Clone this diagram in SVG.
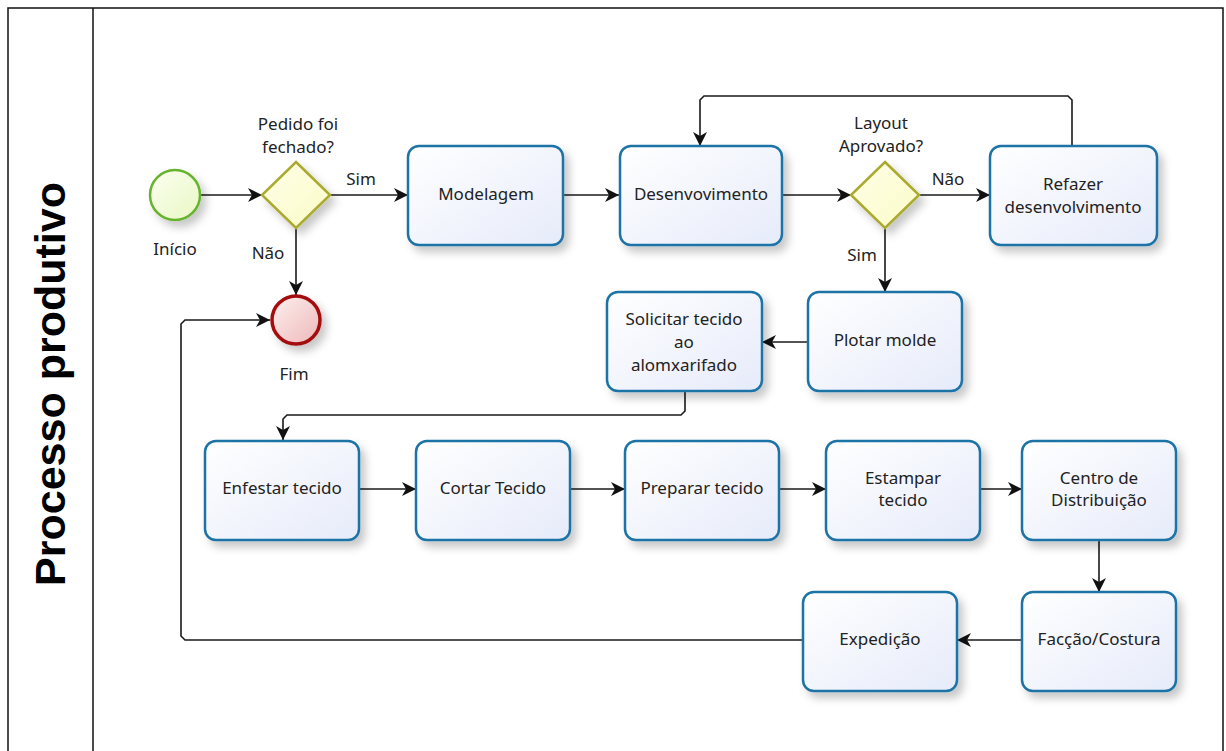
<svg xmlns="http://www.w3.org/2000/svg" width="1226" height="751" viewBox="0 0 1226 751">
<defs>
<linearGradient id="gTask" x1="0" y1="0" x2="1" y2="1"><stop offset="0" stop-color="#ffffff"/><stop offset="1" stop-color="#e6ebfa"/></linearGradient>
<linearGradient id="gGate" x1="0" y1="0" x2="1" y2="1"><stop offset="0" stop-color="#ffffe8"/><stop offset="1" stop-color="#fbfbc8"/></linearGradient>
<linearGradient id="gStart" x1="0" y1="0" x2="1" y2="1"><stop offset="0" stop-color="#fbfff0"/><stop offset="1" stop-color="#e9f7c4"/></linearGradient>
<linearGradient id="gEnd" x1="0" y1="0" x2="1" y2="1"><stop offset="0" stop-color="#fdf0f0"/><stop offset="1" stop-color="#eeb8b8"/></linearGradient>
<filter id="sh" x="-20%" y="-20%" width="150%" height="150%"><feDropShadow dx="5" dy="6" stdDeviation="4" flood-color="#000" flood-opacity="0.22"/></filter>
<marker id="arr" viewBox="0 0 14 14" refX="14" refY="7" markerWidth="14" markerHeight="14" markerUnits="userSpaceOnUse" orient="auto"><path d="M0,0 L14,7 L0,14 L4,7 z" fill="#111"/></marker>
</defs>
<style>
.task{fill:url(#gTask);stroke:#1e73a6;stroke-width:2.5;filter:url(#sh)}
.gate{fill:url(#gGate);stroke:#aaaa2e;stroke-width:2.5;filter:url(#sh)}
.t{font-family:"Noto Sans","DejaVu Sans",sans-serif;font-size:17px;fill:#222;text-anchor:middle}
.c{fill:none;stroke:#1a1a1a;stroke-width:1.6;marker-end:url(#arr)}
</style>
<rect x="0" y="0" width="1226" height="751" fill="#fff"/>
<g id="pool">
<path d="M8,760 L8,8 L1223,8 L1223,760" fill="none" stroke="#111" stroke-width="1.5"/>
<line x1="93" y1="8" x2="93" y2="760" stroke="#111" stroke-width="1.5"/>
<text transform="translate(65,384) rotate(-90)" font-family="'Liberation Sans',Arial,sans-serif" font-weight="bold" font-size="43" text-anchor="middle" fill="#000">Processo produtivo</text>
</g>
<g id="connectors">
<line class="c" x1="201" y1="195" x2="262" y2="195"/>
<line class="c" x1="330" y1="195" x2="408" y2="195"/>
<line class="c" x1="296" y1="228" x2="296" y2="295"/>
<line class="c" x1="563" y1="195" x2="619" y2="195"/>
<line class="c" x1="782" y1="195" x2="851" y2="195"/>
<line class="c" x1="919" y1="195" x2="990" y2="195"/>
<path class="c" d="M1072,146 L1072,100 L1068,96 L704,96 L700,100 L700,146"/>
<line class="c" x1="885" y1="228" x2="885" y2="292"/>
<line class="c" x1="808" y1="342" x2="762" y2="342"/>
<path class="c" d="M685,391 L685,411 L681,415 L287,415 L283,419 L283,440"/>
<line class="c" x1="359" y1="489" x2="416" y2="489"/>
<line class="c" x1="570" y1="489" x2="625" y2="489"/>
<line class="c" x1="779" y1="489" x2="826" y2="489"/>
<line class="c" x1="980" y1="489" x2="1022" y2="489"/>
<line class="c" x1="1099" y1="540" x2="1099" y2="592"/>
<line class="c" x1="1022" y1="640" x2="957" y2="640"/>
<path class="c" d="M803,640 L185,640 L181,636 L181,324 L185,320 L270,320"/>
<text class="t" x="361" y="185">Sim</text>
<text class="t" x="268" y="259">Não</text>
<text class="t" x="948" y="185">Não</text>
<text class="t" x="862" y="261">Sim</text>
</g>
<g id="start">
<circle cx="175" cy="195" r="25" fill="url(#gStart)" stroke="#66b32e" stroke-width="2.5" filter="url(#sh)"/>
<text class="t" x="175" y="255">Início</text>
</g>
<g id="gateway1">
<polygon class="gate" points="296,162 330,195 296,228 262,195"/>
<text class="t" x="298" y="130">Pedido foi</text>
<text class="t" x="298" y="153">fechado?</text>
</g>
<g id="end">
<circle cx="296" cy="320" r="24" fill="url(#gEnd)" stroke="#a31010" stroke-width="3.5" filter="url(#sh)"/>
<text class="t" x="294" y="380">Fim</text>
</g>
<g id="modelagem">
<rect class="task" x="408" y="146" width="155" height="99" rx="11"/>
<text class="t" x="486" y="200">Modelagem</text>
</g>
<g id="desenvolvimento">
<rect class="task" x="620" y="146" width="162" height="99" rx="11"/>
<text class="t" x="701" y="200">Desenvovimento</text>
</g>
<g id="gateway2">
<polygon class="gate" points="885,162 919,195 885,228 851,195"/>
<text class="t" x="881" y="129">Layout</text>
<text class="t" x="881" y="152">Aprovado?</text>
</g>
<g id="refazer">
<rect class="task" x="990" y="146" width="167" height="99" rx="11"/>
<text class="t" x="1073" y="190">Refazer</text>
<text class="t" x="1073" y="213">desenvolvimento</text>
</g>
<g id="plotar">
<rect class="task" x="808" y="292" width="154" height="99" rx="11"/>
<text class="t" x="885" y="346">Plotar molde</text>
</g>
<g id="solicitar">
<rect class="task" x="607" y="292" width="155" height="99" rx="11"/>
<text class="t" x="684" y="325">Solicitar tecido</text>
<text class="t" x="684" y="348">ao</text>
<text class="t" x="684" y="371">alomxarifado</text>
</g>
<g id="enfestar">
<rect class="task" x="205" y="441" width="154" height="99" rx="11"/>
<text class="t" x="282" y="494">Enfestar tecido</text>
</g>
<g id="cortar">
<rect class="task" x="416" y="441" width="154" height="99" rx="11"/>
<text class="t" x="493" y="494">Cortar Tecido</text>
</g>
<g id="preparar">
<rect class="task" x="625" y="441" width="154" height="99" rx="11"/>
<text class="t" x="702" y="494">Preparar tecido</text>
</g>
<g id="estampar">
<rect class="task" x="826" y="441" width="154" height="99" rx="11"/>
<text class="t" x="903" y="484">Estampar</text>
<text class="t" x="903" y="506">tecido</text>
</g>
<g id="centro">
<rect class="task" x="1022" y="441" width="154" height="99" rx="11"/>
<text class="t" x="1099" y="484">Centro de</text>
<text class="t" x="1099" y="506">Distribuição</text>
</g>
<g id="faccao">
<rect class="task" x="1022" y="592" width="154" height="99" rx="11"/>
<text class="t" x="1099" y="645">Facção/Costura</text>
</g>
<g id="expedicao">
<rect class="task" x="803" y="592" width="154" height="99" rx="11"/>
<text class="t" x="880" y="645">Expedição</text>
</g>
</svg>
